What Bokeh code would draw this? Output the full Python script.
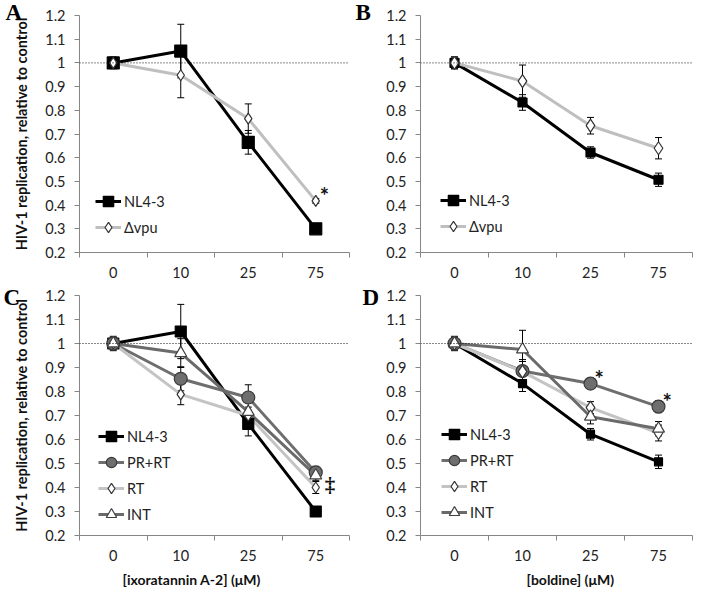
from bokeh.plotting import figure
from bokeh.layouts import gridplot
from bokeh.models import Range1d, FixedTicker, Legend, LegendItem, Label, Span, Title
from bokeh.embed import file_html
from bokeh.resources import INLINE

# ---------------- data ----------------
conc_labels = ["0", "10", "25", "75"]
y_ticks = [0.2, 0.3, 0.4, 0.5, 0.6, 0.7, 0.8, 0.9, 1.0, 1.1, 1.2]
y_tick_labels = ["0.2", "0.3", "0.4", "0.5", "0.6", "0.7", "0.8", "0.9", "1", "1.1", "1.2"]

# Panel A: ixoratannin A-2
a_nl43 = [1.0, 1.05, 0.665, 0.30]
a_nl43_err = [0.025, 0.113, 0.05, 0.01]
a_dvpu = [1.0, 0.948, 0.765, 0.418]
a_dvpu_err = [0.02, 0.095, 0.062, 0.01]

# Panel B: boldine
b_nl43 = [1.0, 0.833, 0.622, 0.507]
b_nl43_err = [0.025, 0.033, 0.024, 0.028]
b_dvpu = [1.0, 0.923, 0.735, 0.64]
b_dvpu_err = [0.025, 0.068, 0.035, 0.045]

# Panel C: ixoratannin A-2
c_nl43 = [1.0, 1.05, 0.665, 0.30]
c_nl43_err = [0.025, 0.113, 0.05, 0.01]
c_prrt = [1.0, 0.853, 0.775, 0.463]
c_prrt_err = [0.02, 0.05, 0.053, 0.025]
c_rt = [1.0, 0.788, 0.70, 0.40]
c_rt_err = [0.02, 0.043, 0.02, 0.025]
c_int = [1.0, 0.96, 0.715, 0.45]
c_int_err = [0.03, 0.06, 0.02, 0.02]

# Panel D: boldine
d_nl43 = [1.0, 0.833, 0.622, 0.507]
d_nl43_err = [0.025, 0.033, 0.024, 0.028]
d_prrt = [1.0, 0.885, 0.833, 0.737]
d_prrt_err = [0.02, 0.04, 0.015, 0.025]
d_rt = [1.0, 0.883, 0.733, 0.627]
d_rt_err = [0.02, 0.05, 0.025, 0.033]
d_int = [1.0, 0.975, 0.695, 0.645]
d_int_err = [0.03, 0.08, 0.03, 0.03]

xs = [i + 0.5 for i in range(len(conc_labels))]

FONT = "Lato"
AXIS_GRAY = "#868686"

STY = {
    "NL4-3": dict(line="#000000", marker="square", fill="#000000", edge="#000000"),
    "dvpu": dict(line="#bfbfbf", marker="diamond", fill="#ffffff", edge="#333333"),
    "PR+RT": dict(line="#6e6e6e", marker="circle", fill="#6e6e6e", edge="#3a3a3a"),
    "RT": dict(line="#c4c4c4", marker="diamond", fill="#ffffff", edge="#333333"),
    "INT": dict(line="#6a6a6a", marker="triangle", fill="#ffffff", edge="#404040"),
}


def make_panel(letter, series, width, height, borders, ylabel, legend_loc, spacing,
               letter_offset, letter_standoff, xlabel=None, xlabel_offset=0):
    left, right, top, bottom = borders
    p = figure(width=width, height=height, output_backend="svg", toolbar_location=None,
               x_range=Range1d(0, 4), y_range=Range1d(0.2, 1.2),
               min_border_left=left, min_border_right=right,
               min_border_top=top, min_border_bottom=bottom)
    p.outline_line_color = None
    p.xgrid.visible = False
    p.ygrid.visible = False
    p.background_fill_color = "white"

    xa = p.xaxis[0]
    xa.ticker = FixedTicker(ticks=xs, minor_ticks=[0, 1, 2, 3, 4])
    xa.major_label_overrides = {x: l for x, l in zip(xs, conc_labels)}
    xa.major_tick_out = 0
    xa.major_tick_in = 0
    xa.minor_tick_out = 5
    xa.minor_tick_in = 0
    xa.minor_tick_line_color = AXIS_GRAY
    xa.axis_line_color = AXIS_GRAY
    xa.major_label_text_font = FONT
    xa.major_label_text_font_size = "14.5px"
    xa.major_label_text_color = "#222222"
    xa.major_label_standoff = 9

    ya = p.yaxis[0]
    ya.ticker = FixedTicker(ticks=y_ticks)
    ya.major_label_overrides = {t: l for t, l in zip(y_ticks, y_tick_labels)}
    ya.major_tick_out = 5
    ya.major_tick_in = 0
    ya.minor_tick_line_color = None
    ya.major_tick_line_color = AXIS_GRAY
    ya.axis_line_color = AXIS_GRAY
    ya.major_label_text_font = FONT
    ya.major_label_text_font_size = "14.5px"
    ya.major_label_text_color = "#222222"
    ya.major_label_standoff = 9
    if ylabel:
        ya.axis_label = ylabel
        ya.axis_label_text_font = FONT
        ya.axis_label_text_font_style = "bold"
        ya.axis_label_text_font_size = "14.5px"
        ya.axis_label_text_color = "#111111"
        ya.axis_label_standoff = 12

    p.add_layout(Span(location=1.0, dimension="width", line_color="#111111",
                      line_width=1, line_dash="1 2"))

    # error bars
    for name, vals, errs, size, star in series:
        lo = [v - e for v, e in zip(vals, errs)]
        hi = [v + e for v, e in zip(vals, errs)]
        p.segment(x0=xs, y0=lo, x1=xs, y1=hi, line_color="black", line_width=1)
        p.scatter(x=xs + xs, y=lo + hi, marker="dash", size=7, line_color="black",
                  line_width=1)

    items = []
    line_rs = []
    for name, vals, errs, size, star in series:
        s = STY[name]
        lr = p.line(xs, vals, line_color=s["line"], line_width=3)
        line_rs.append(lr)
    for (name, vals, errs, size, star), lr in zip(series, line_rs):
        s = STY[name]
        mr = p.scatter(xs, vals, marker=s["marker"], size=size, fill_color=s["fill"],
                       line_color=s["edge"], line_width=1.2)
        label = "Δvpu" if name == "dvpu" else name
        items.append(LegendItem(label=label, renderers=[lr, mr]))
        for idx, sym in star:
            if sym == "*":
                p.add_layout(Label(x=xs[idx], y=vals[idx], text=sym, text_font=FONT,
                                   text_font_style="bold", text_font_size="22px",
                                   text_color="#111111", x_offset=4, y_offset=5,
                                   text_baseline="alphabetic", text_align="left"))
            else:
                p.add_layout(Label(x=xs[idx], y=vals[idx], text=sym,
                                   text_font="Liberation Serif",
                                   text_font_style="bold", text_font_size="21px",
                                   text_color="#111111", x_offset=9, y_offset=-9,
                                   text_baseline="middle", text_align="left"))

    leg = Legend(items=items, location=legend_loc, spacing=spacing, padding=5, margin=0,
                 glyph_width=26, glyph_height=26, label_standoff=3,
                 label_text_font=FONT, label_text_font_size="14.5px",
                 label_text_color="#222222", background_fill_alpha=0,
                 border_line_alpha=0)
    p.add_layout(leg)

    # panel letter (title panel above the frame, pulled down onto the corner)
    p.add_layout(Title(text=letter, align="left", vertical_align="bottom",
                       offset=letter_offset, standoff=letter_standoff,
                       text_font="Liberation Serif", text_font_style="bold",
                       text_font_size="23px", text_color="#000000"), "above")
    if xlabel:
        p.add_layout(Title(text=xlabel, align="left", offset=xlabel_offset,
                           text_font=FONT, text_font_style="bold",
                           text_font_size="14px", text_color="#111111",
                           standoff=10), "below")
    return p


YLAB = "HIV-1 replication, relative to control"

pA = make_panel("A",
                [("NL4-3", a_nl43, a_nl43_err, 12, []),
                 ("dvpu", a_dvpu, a_dvpu_err, 11, [(3, "*")])],
                354, 281, (77, 5, 15, 29), YLAB, (11, 7), -3, -74, -19)
pB = make_panel("B",
                [("NL4-3", b_nl43, b_nl43_err, 9, []),
                 ("dvpu", b_dvpu, b_dvpu_err, 13, [])],
                340, 281, (66, 1, 15, 29), None, (15, 8), -3, -65, -19)
pC = make_panel("C",
                [("NL4-3", c_nl43, c_nl43_err, 11, []),
                 ("PR+RT", c_prrt, c_prrt_err, 13, []),
                 ("RT", c_rt, c_rt_err, 11, []),
                 ("INT", c_int, c_int_err, 12, [(3, "‡")])],
                354, 311, (79, 4, 14, 54), YLAB, (14, 3), -2, -76, -28,
                "[ixoratannin A-2] (μM)", 43)
pD = make_panel("D",
                [("NL4-3", d_nl43, d_nl43_err, 8, []),
                 ("PR+RT", d_prrt, d_prrt_err, 13, [(2, "*"), (3, "*")]),
                 ("RT", d_rt, d_rt_err, 13, []),
                 ("INT", d_int, d_int_err, 12, [])],
                340, 311, (63, 2, 14, 54), None, (16, 5), -2, -58, -28,
                "[boldine] (μM)", 106)

grid = gridplot([[pA, pB], [pC, pD]], toolbar_location=None)

open("out.html", "w").write(file_html(grid, INLINE))
